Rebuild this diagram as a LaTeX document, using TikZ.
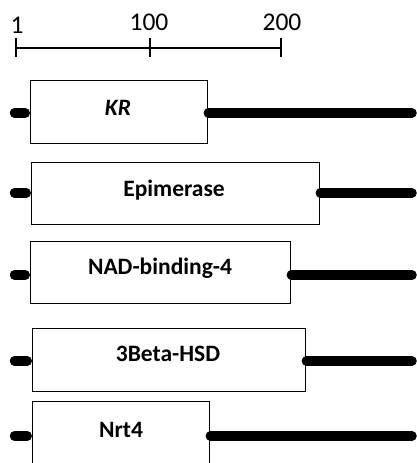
\documentclass[tikz,border=0pt]{standalone}
\usepackage{fontspec}
\setmainfont{Carlito}
\begin{document}
\begin{tikzpicture}[x=1pt,y=-1pt,
  box/.style={draw=black,line width=1.3pt,fill=white,rectangle,anchor=north west,inner sep=0pt},
  lbl/.style={font=\fontsize{23.5}{26}\selectfont\bfseries,inner sep=0pt},
  num/.style={font=\fontsize{25.5}{28}\selectfont,inner sep=0pt,anchor=base},
  thick line/.style={line width=9.5pt,line cap=round},
  scale line/.style={line width=1.4pt}]
\useasboundingbox (0,0) rectangle (417,463);
% scale bar
\coordinate (s1) at (16,48);
\coordinate (s100) at (150,48);
\coordinate (s200) at (281,48);
\draw[scale line] (s1) -- (s200);
\foreach \p in {s1,s100,s200}{\draw[scale line] ([yshift=-9]\p) -- ([yshift=10]\p);}
\node[num] (n1) at (17,33) {1};
\node[num] (n100) at (149,30) {100};
\node[num] (n200) at (282,30) {200};
% boxes
\node[box,minimum width=177,minimum height=63] (kr) at (30,80) {};
\node[box,minimum width=288,minimum height=62] (epi) at (31,162) {};
\node[box,minimum width=260,minimum height=62] (nad) at (30,241) {};
\node[box,minimum width=273,minimum height=63] (hsd) at (32,328) {};
\node[box,minimum width=177,minimum height=64] (nrt) at (32,401) {};
% labels
\node[lbl] (kr-t) at (118,108) {\itshape KR};
\node[lbl] (epi-t) at (174,190) {Epimerase};
\node[lbl] (nad-t) at (160,268) {NAD-binding-4};
\node[lbl] (hsd-t) at (168,354) {3Beta-HSD};
\node[lbl] (nrt-t) at (121,430) {Nrt4};
% lines
\foreach \b/\y in {kr/113,epi/193,nad/275,hsd/361,nrt/436}{
  \coordinate (\b-l) at (14.5,\y);
  \coordinate (\b-r) at (412,\y);
  \draw[thick line,shorten >=4.75pt] (\b-l) -- (\b-l -| \b.west);
  \draw[thick line] (\b-r -| \b.east) -- (\b-r);
}
\end{tikzpicture}
\end{document}
